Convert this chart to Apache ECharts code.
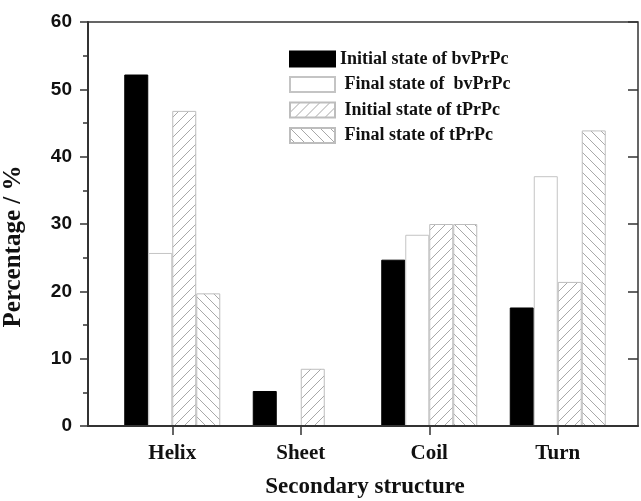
<!DOCTYPE html>
<html>
<head>
<meta charset="utf-8">
<script src="https://cdn.jsdelivr.net/npm/echarts@6/dist/echarts.min.js"></script>
<style>
html,body{margin:0;padding:0;background:#fff;}
#chart{width:641px;height:501px;}
</style>
</head>
<body>
<div id="chart"></div>
<script>
const categories = ['Helix', 'Sheet', 'Coil', 'Turn'];
const seriesNames = ['Initial state of bvPrPc', 'Final state of  bvPrPc', 'Initial state of tPrPc', 'Final state of tPrPc'];
const initialBv = [52.2, 5.2, 24.7, 17.6];
const finalBv = [25.7, 0, 28.4, 37.1];
const initialT = [46.8, 8.5, 30.0, 21.4];
const finalT = [19.7, 0, 30.0, 43.9];
const yTicks = [0, 10, 20, 30, 40, 50, 60];

function hatch(dir) {
  const s = 10;
  const c = document.createElement('canvas');
  c.width = s; c.height = s;
  const g = c.getContext('2d');
  g.fillStyle = '#ffffff';
  g.fillRect(0, 0, s, s);
  g.strokeStyle = '#a8a8a8';
  g.lineWidth = 1;
  g.beginPath();
  if (dir > 0) {
    g.moveTo(-1, s + 1); g.lineTo(s + 1, -1);
    g.moveTo(-2, 2); g.lineTo(2, -2);
    g.moveTo(s - 2, s + 2); g.lineTo(s + 2, s - 2);
  } else {
    g.moveTo(-1, -1); g.lineTo(s + 1, s + 1);
    g.moveTo(-2, s - 2); g.lineTo(2, s + 2);
    g.moveTo(s - 2, -2); g.lineTo(s + 2, 2);
  }
  g.stroke();
  return { image: c, repeat: 'repeat' };
}

const serif = 'Liberation Serif';
const sans = 'Liberation Sans';
const chart = echarts.init(document.getElementById('chart'), null, { renderer: 'canvas' });

const styles = [
  { color: '#000000', borderColor: '#000000', borderWidth: 1 },
  { color: '#ffffff', borderColor: '#c4c4c4', borderWidth: 1 },
  { color: hatch(1), borderColor: '#bdbdbd', borderWidth: 1 },
  { color: hatch(-1), borderColor: '#bdbdbd', borderWidth: 1 }
];
const dataSets = [initialBv, finalBv, initialT, finalT];

chart.setOption({
  animation: false,
  backgroundColor: '#ffffff',
  legend: {
    orient: 'vertical',
    left: 289,
    top: 50,
    padding: 0,
    icon: 'rect',
    itemWidth: 45,
    itemHeight: 15,
    itemGap: 7.5,
    selectedMode: false,
    data: seriesNames,
    formatter: function (n) { return n === seriesNames[0] ? n : ' ' + n; },
    textStyle: { fontFamily: serif, fontWeight: 'bold', fontSize: 18, color: '#111' }
  },
  grid: [
    { left: 88, right: 3, top: 22, bottom: 75, show: true, borderColor: '#333', borderWidth: 1.5,
      backgroundColor: 'transparent', containLabel: false, outerBoundsMode: 'none' },
    { left: 108, right: 19, top: 22, bottom: 75, containLabel: false, outerBoundsMode: 'none' }
  ],
  xAxis: [
    { gridIndex: 0, type: 'value', min: 0, max: 1, z: 5,
      axisLine: { show: true, lineStyle: { color: '#333', width: 2 } },
      axisTick: { show: false }, axisLabel: { show: false }, splitLine: { show: false } },
    { gridIndex: 1, type: 'category', data: categories,
      axisLine: { show: false },
      axisTick: { show: true, alignWithLabel: true, length: 9, lineStyle: { color: '#333', width: 1.5 } },
      axisLabel: { margin: 17, fontFamily: serif, fontWeight: 'bold', fontSize: 21, color: '#111' },
      name: 'Secondary structure', nameLocation: 'middle', nameGap: 50,
      nameTextStyle: { fontFamily: serif, fontWeight: 'bold', fontSize: 23, color: '#111' } }
  ],
  yAxis: [
    { gridIndex: 0, type: 'value', min: 0, max: 60, interval: 10, z: 5,
      axisLine: { show: true, lineStyle: { color: '#333', width: 2 } },
      axisTick: { show: true, inside: false, length: 8, lineStyle: { color: '#333', width: 1.5 } },
      minorTick: { show: true, splitNumber: 2, length: 5, lineStyle: { color: '#333', width: 1.5 } },
      splitLine: { show: false },
      axisLabel: { margin: 16, fontFamily: sans, fontWeight: 'bold', fontSize: 19, color: '#111',
        formatter: function (v) { return yTicks.indexOf(v) >= 0 ? String(v) : ''; } },
      name: 'Percentage / %', nameLocation: 'middle', nameGap: 62,
      nameTextStyle: { fontFamily: serif, fontWeight: 'bold', fontSize: 25, color: '#111', padding: [0, 45, 0, 0] } },
    { gridIndex: 0, type: 'value', min: 0, max: 60, interval: 10, z: 5,
      axisLine: { show: false },
      axisTick: { show: true, inside: true, length: 10, lineStyle: { color: '#333', width: 1.5 } },
      axisLabel: { show: false }, splitLine: { show: false } },
    { gridIndex: 1, type: 'value', min: 0, max: 60, show: false }
  ],
  series: dataSets.map(function (d, i) {
    return {
      name: seriesNames[i],
      type: 'bar',
      xAxisIndex: 1,
      yAxisIndex: 2,
      data: d,
      barWidth: 24,
      barGap: '0%',
      itemStyle: styles[i],
      emphasis: { disabled: true }
    };
  })
});
</script>
</body>
</html>
